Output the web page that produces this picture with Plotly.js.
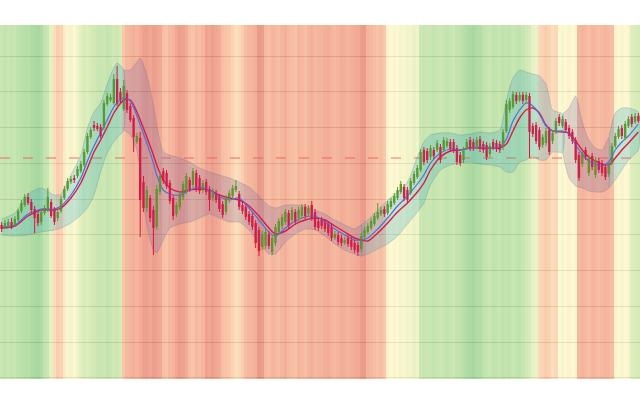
<!DOCTYPE html>
<html>
<head>
<meta charset="utf-8">
<script src="https://cdn.plot.ly/plotly-3.0.1.min.js"></script>
<style>html,body{margin:0;padding:0;background:#fff;}#chart{width:640px;height:400px;}</style>
</head>
<body>
<div id="chart"></div>
<script>
const opens = [175,173,174,178,175,180,189,195,203,198,
 191,186,178,187,190,198,190,182,189,202,
 211,218,222,224,229,235,248,263,275,274,
 273,272,296,300,297,321,308,291,307,294,
 282,258,262,218,192,202,190,173,208,229,
 227,217,202,186,193,203,209,220,215,227,
 222,210,218,211,202,207,203,196,188,200,
 204,210,206,195,193,186,184,177,170,153,
 154,166,148,157,168,174,178,187,180,188,
 182,184,193,186,195,188,179,180,178,176,
 173,162,165,162,157,162,160,157,155,151,
 163,168,172,176,182,186,191,187,193,197,
 202,208,213,210,207,217,223,230,250,249,
 243,250,250,253,250,254,258,258,252,245,
 240,252,260,258,253,261,256,255,246,258,
 257,256,253,269,290,293,305,300,305,300,
 304,274,275,270,255,257,270,259,268,283,
 274,278,272,268,260,245,236,250,227,244,
 225,239,237,233,226,237,254,263,272,262,
 274,283,278,284];
const highs = [178,180,181,182,184,191,200,206,207,201,
 194,189,190,195,212,201,193,191,204,214,
 222,224,225,234,239,251,267,273,279,277,
 276,300,307,306,326,334,312,320,310,297,
 285,267,268,224,214,205,194,215,228,232,
 230,220,205,198,209,219,227,223,232,230,
 225,220,221,214,212,210,206,199,205,210,
 215,220,209,198,196,189,187,180,173,169,
 171,169,165,176,182,186,191,190,193,191,
 193,196,196,195,199,191,182,183,181,179,
 176,169,168,165,163,165,163,160,158,167,
 173,177,182,187,197,193,194,199,202,207,
 213,219,216,213,222,229,235,251,253,252,
 255,253,260,256,263,262,261,261,255,248,
 253,261,263,261,263,264,259,258,257,261,
 260,259,271,300,302,309,308,308,308,308,
 307,277,278,273,266,272,273,270,282,286,
 284,281,275,271,263,248,250,253,245,247,
 243,242,240,236,237,257,267,274,275,279,
 284,286,287,287];
const lows = [168,171,172,171,173,178,187,193,195,187,
 167,174,175,185,188,182,175,179,187,200,
 209,216,217,222,227,233,246,261,269,269,
 262,270,294,298,295,294,297,289,287,278,
 248,256,163,188,188,178,145,170,205,216,
 211,196,180,183,190,200,206,208,212,208,
 206,207,205,189,199,197,188,182,185,197,
 201,208,190,186,180,175,170,152,144,150,
 151,151,145,154,165,171,175,171,177,175,
 179,181,181,183,179,170,169,171,168,164,
 159,160,155,154,155,153,150,147,144,148,
 160,166,170,174,180,184,183,185,191,195,
 200,206,199,197,205,215,221,228,235,237,
 240,241,248,237,248,252,248,247,235,234,
 237,250,249,249,251,248,247,240,243,250,
 248,247,250,267,287,291,296,298,296,297,
 242,263,256,250,252,254,245,256,266,274,
 272,267,261,256,237,219,233,240,224,230,
 222,227,224,220,223,235,252,261,261,260,
 272,273,276,277];
const closes = [171,177,178,174,181,189,197,203,197,190,
 182,177,188,192,203,184,178,188,201,211,
 219,221,220,231,236,248,264,270,272,271,
 264,297,304,303,321,296,300,314,290,280,
 263,264,200,192,210,182,172,211,224,219,
 214,199,184,195,206,216,224,211,229,211,
 209,217,208,200,209,200,191,185,202,207,
 212,214,193,189,183,178,173,157,149,166,
 168,154,162,173,179,183,188,174,190,178,
 190,193,184,192,182,173,172,174,171,167,
 162,166,158,157,160,156,153,150,148,164,
 170,174,179,184,188,190,186,196,199,204,
 210,216,202,200,219,226,232,248,238,240,
 252,244,257,240,260,259,251,250,238,237,
 250,258,252,252,260,251,250,243,254,253,
 251,250,268,296,299,306,299,305,299,305,
 268,266,259,253,263,269,248,267,279,277,
 281,270,264,259,240,222,247,243,242,233,
 240,230,227,223,234,254,264,271,264,276,
 281,276,284,279];

// background regime score per candle (-1 red ... +1 green)
const bgScore = [0.6,0.65,0.6,0.65,0.6,0.7,0.75,0.8,0.8,0.9,
 0.95,1.0,0.9,0.65,0.6,0.3,-0.2,-0.35,-0.3,-0.1,
 0.05,0.1,0.0,0.15,0.3,0.4,0.35,0.45,0.5,0.55,
 0.6,0.55,0.65,0.6,0.5,0.55,0.45,-0.4,-0.55,-0.6,
 -0.65,-0.6,-0.7,-0.85,-0.9,-0.8,-0.9,-0.85,-0.75,-0.5,
 -0.45,-0.55,-0.6,-0.8,-0.9,-0.85,-0.7,-0.5,-0.45,-0.55,
 -0.5,-0.6,-0.85,-0.8,-0.9,-0.8,-0.7,-0.5,-0.45,-0.4,
 -0.3,-0.2,-0.25,-0.35,-0.5,-0.55,-0.6,-0.65,-0.95,-0.9,
 -0.55,-0.5,-0.6,-0.55,-0.5,-0.6,-0.65,-0.55,-0.5,-0.45,
 -0.6,-0.55,-0.5,-0.6,-0.65,-0.55,-0.6,-0.6,-0.65,-0.7,
 -0.6,-0.55,-0.6,-0.7,-0.65,-0.6,-0.65,-0.7,-0.75,-0.9,
 -0.95,-0.6,-0.55,-0.5,-0.45,-0.5,-0.4,-0.05,0.0,0.05,
 0.0,0.1,0.05,0.15,0.1,0.2,0.15,0.55,0.6,0.55,
 0.6,0.65,0.6,0.55,0.6,0.65,0.6,0.55,0.65,0.7,
 0.8,0.85,0.95,1.0,0.9,0.85,0.7,0.65,0.6,0.7,
 0.65,0.6,0.7,0.65,0.7,0.6,0.65,0.7,0.6,0.5,
 0.45,0.25,0.2,-0.25,-0.3,-0.35,-0.3,-0.2,-0.25,0.0,
 0.05,0.0,-0.05,0.0,0.05,-0.55,-0.6,-0.55,-0.5,-0.6,
 -0.55,-0.5,-0.55,-0.6,-0.55,-0.5,-0.05,0.0,0.05,0.0,
 0.05,0.35,0.4,0.45];

// bands and moving averages, sampled at candle indices
const bandX = [0,4,8,12,16,18,21,24,26,28,30,32,34,35,37,39,41,42,44,46,47,49,51,54,57,60,63,66,69,72,75,78,81,83,86,89,92,95,98,101,104,107,109,111,114,117,120,123,126,128,130,133,136,139,142,145,148,151,153,155,157,159,161,163,165,167,170,172,174,176,178,180,182,184,186,188,190,193];
const bandUpper = [181,187,206,212,205,206,225,245,272,288,297,316,332,337,330,330,338,342,325,295,275,248,245,242,238,232,228,225,222,218,213,204,194,192,195,195,194,190,186,180,175,171,175,180,190,200,208,218,243,258,265,267,267,265,266,268,267,270,300,322,330,328,326,324,316,290,286,292,304,278,260,252,250,262,287,292,292,288];
const bandLower = [165,164,165,168,170,172,177,185,192,205,228,247,258,262,270,265,250,225,175,150,147,160,172,176,178,182,186,182,178,178,170,157,146,146,158,166,171,170,164,156,150,146,144,146,151,156,164,176,188,197,215,230,235,237,238,236,235,233,228,228,238,240,244,240,240,248,248,222,214,212,209,208,208,212,220,230,240,250];
const maSlow = [172,174,184,190,190,192,202,217,232,248,260,273,287,292,300,300,288,280,263,245,235,220,212,208,210,211,210,205,202,200,194,184,172,166,169,176,180,182,180,174,168,162,160,159,167,177,188,197,208,217,230,243,249,250,252,252,252,252,256,269,282,290,292,287,275,269,268,267,259,250,243,239,236,235,242,250,257,268];
const maFast = [173,175,186,191,191,194,205,222,239,254,267,280,293,297,302,299,284,275,257,237,225,210,206,205,210,213,210,203,200,202,192,180,168,164,172,179,183,184,178,171,165,160,160,162,171,182,194,204,216,225,237,247,251,250,252,253,252,253,261,279,290,297,294,286,274,269,269,266,255,246,239,236,234,238,250,258,264,276];

// trend regimes of the band fill
const trendBreaks = [0, 37, 109, 170, 184, 193];
const trendSigns = [1, -1, 1, -1, 1];

const refLevel = 242;
const yRange = [21, 375];
const gridStart = 58, gridStep = 35.75;

const UP = '#5f9a22', DOWN = '#e0163f';
const idx = opens.map((_, i) => i);
const xRange = [-0.5, opens.length - 0.5];

const traces = [];
traces.push({
  type: 'heatmap', x: idx, y: yRange, z: [bgScore],
  zmin: -1, zmax: 1, showscale: false, hoverinfo: 'skip', opacity: 0.6,
  colorscale: [[0,'rgb(220,83,57)'],[0.2,'rgb(238,130,90)'],[0.35,'rgb(248,180,127)'],
               [0.5,'rgb(252,243,180)'],[0.65,'rgb(210,230,150)'],[0.8,'rgb(163,213,123)'],[1,'rgb(110,190,97)']]
});
traces.push({
  type: 'scatter', mode: 'lines', x: xRange, y: [refLevel, refLevel],
  line: {color: 'rgba(232,95,80,0.85)', width: 1, dash: '10px,13px'}, hoverinfo: 'skip', showlegend: false
});
for (let k = 0; k < trendSigns.length; k++) {
  const a = trendBreaks[k], b = trendBreaks[k + 1];
  const px = [], pu = [], pl = [];
  bandX.forEach((x, j) => { if (x >= a && x <= b) { px.push(x); pu.push(bandUpper[j]); pl.push(bandLower[j]); } });
  const up = trendSigns[k] > 0;
  traces.push({
    type: 'scatter', mode: 'lines', x: px.concat(px.slice().reverse()), y: pu.concat(pl.slice().reverse()),
    fill: 'toself', fillcolor: up ? 'rgba(40,165,200,0.24)' : 'rgba(115,100,165,0.24)',
    line: {color: 'rgba(90,100,130,0.3)', width: 0.8, shape: 'spline', smoothing: 0.6},
    hoverinfo: 'skip', showlegend: false
  });
}
traces.push({type: 'scatter', mode: 'lines', x: bandX, y: maSlow, line: {color: '#d81b4a', width: 1.4, shape: 'spline', smoothing: 0.8}, showlegend: false});
traces.push({type: 'scatter', mode: 'lines', x: bandX, y: maFast, line: {color: '#5070dd', width: 1.2, shape: 'spline', smoothing: 0.8}, showlegend: false});

// candles: wicks as line segments, bodies as floating bars
function wickTrace(rising) {
  const wx = [], wy = [];
  idx.forEach(i => { if ((closes[i] >= opens[i]) === rising) { wx.push(i, i, null); wy.push(lows[i], highs[i], null); } });
  return {type: 'scatter', mode: 'lines', x: wx, y: wy, line: {color: rising ? UP : DOWN, width: 1}, hoverinfo: 'skip', showlegend: false};
}
function bodyTrace(rising) {
  const bx = [], bb = [], bh = [];
  idx.forEach(i => { if ((closes[i] >= opens[i]) === rising) { bx.push(i); bb.push(Math.min(opens[i], closes[i])); bh.push(Math.abs(closes[i] - opens[i])); } });
  return {type: 'bar', x: bx, y: bh, base: bb, width: 0.72, marker: {color: rising ? UP : DOWN, line: {width: 0}}, hoverinfo: 'skip', showlegend: false};
}
traces.push(wickTrace(true), wickTrace(false), bodyTrace(true), bodyTrace(false));

const layout = {
  width: 640, height: 400,
  margin: {l: 0, r: 0, t: 25, b: 21},
  paper_bgcolor: '#ffffff', plot_bgcolor: '#ffffff',
  showlegend: false, barmode: 'overlay',
  xaxis: {range: xRange, showgrid: false, zeroline: false, showticklabels: false, ticks: '', showline: false},
  yaxis: {range: yRange, showgrid: true, gridcolor: 'rgba(70,70,70,0.3)', gridwidth: 1, tick0: gridStart, dtick: gridStep,
          zeroline: false, showticklabels: false, ticks: '', showline: false}
};
Plotly.newPlot('chart', traces, layout, {staticPlot: true, displayModeBar: false});
</script>
</body>
</html>
